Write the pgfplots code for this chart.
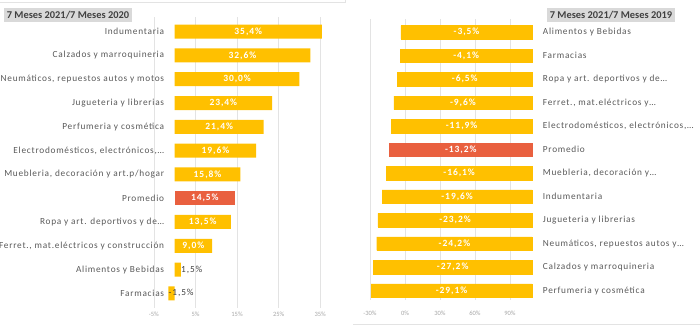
\documentclass[border=0pt]{standalone}
\usepackage{pgfplots}
\pgfplotsset{compat=1.18}
\usepackage{pgfplotstable}
\usepackage{fontspec}
\setmainfont{Carlito}
\newfontfamily\labfont[LetterSpace=8]{Carlito}
\newfontfamily\valfont[LetterSpace=10]{Carlito}
\definecolor{gold}{HTML}{FFC000}
\definecolor{prom}{HTML}{E9603F}
\definecolor{cattext}{HTML}{595959}
\definecolor{ticktext}{HTML}{A6A6A6}
\definecolor{gridc}{HTML}{E3E3E3}
\definecolor{titlebg}{HTML}{D9D9D9}
\definecolor{titletext}{HTML}{404040}
\definecolor{darklab}{HTML}{404040}

% Left panel: 7 Meses 2021 / 7 Meses 2020
\pgfplotstableread{
y v l
11 35.4 35,4\%
10 32.6 32,6\%
9 30.0 30,0\%
8 23.4 23,4\%
7 21.4 21,4\%
6 19.6 19,6\%
5 15.8 15,8\%
3 13.5 13,5\%
2 9.0 9,0\%
1 1.5 1,5\%
0 -1.5 -1,5\%
}\leftgold
\pgfplotstableread{
y v l
4 14.5 14,5\%
}\leftprom

% Right panel: 7 Meses 2021 / 7 Meses 2019 (bars drawn from the value to the bar end e)
\pgfplotstableread{
y v e l
11 -3.5 109 -3,5\%
10 -4.1 109 -4,1\%
9 -6.5 109 -6,5\%
8 -9.6 109 -9,6\%
7 -11.9 109 -11,9\%
5 -16.1 109 -16,1\%
4 -19.6 109 -19,6\%
3 -23.2 109 -23,2\%
2 -24.2 109 -24,2\%
1 -27.2 109 -27,2\%
0 -29.1 109 -29,1\%
}\rightgold
\pgfplotstableread{
y v e l
6 -13.2 109 -13,2\%
}\rightprom

\pgfplotsset{
  panel/.style={
    scale only axis, clip=false,
    axis line style={draw=none}, tick style={draw=none},
    xmajorgrids, major grid style={gridc, line width=0.7pt},
    ytick={0,...,11},
    xticklabel style={font=\fontsize{6.5}{7}\selectfont, text=ticktext, inner sep=0pt, anchor=north},
    yticklabel style={font=\labfont\fontsize{9.3}{10}\selectfont, text=cattext, inner sep=0pt},
    nodes near coords style={font=\valfont\bfseries\fontsize{9.5}{10}\selectfont, text=white, anchor=center, inner sep=0pt},
  },
}

\begin{document}
\begin{tikzpicture}[x=1pt,y=1pt]
\path[use as bounding box] (0,0) rectangle (700,327);
% frames
\draw[gridc, line width=0.6pt] (0,325) -- (345,325) -- (345,327);
\draw[gridc, line width=0.6pt] (353,3) -- (700,3);

\begin{axis}[panel,
  at={(151.8pt,19.4pt)}, anchor=south west,
  width=172.6pt, height=290.2pt,
  xmin=-5.5, xmax=36, ymin=-0.6, ymax=11.6,
  xtick={-5,5,15,25,35},
  xticklabels={-5\%,5\%,15\%,25\%,35\%},
  xticklabel style={yshift=-4.3pt},
  yticklabel style={anchor=east, xshift=12.5pt},
  yticklabels={{Farmacias}, {Alimentos y Bebidas}, {Ferret., mat.eléctricos y construcción}, {Ropa y art. deportivos y de…}, {Promedio}, {Muebleria, decoración y art.p/hogar}, {Electrodomésticos, electrónicos,…}, {Perfumeria y cosmética}, {Jugueteria y librerias}, {Neumáticos, repuestos autos y motos}, {Calzados y marroquineria}, {Indumentaria}},
]
\addplot[xbar, bar width=14pt, bar shift=0pt, fill=gold, draw=none] table[x=v, y=y] {\leftgold};
\addplot[xbar, bar width=14pt, bar shift=0pt, fill=prom, draw=none] table[x=v, y=y] {\leftprom};
\addplot[only marks, mark=none, nodes near coords, point meta=explicit symbolic,
  restrict x to domain=2:100] table[x expr=\thisrow{v}/2, y=y, meta=l] {\leftgold};
\addplot[only marks, mark=none, nodes near coords, point meta=explicit symbolic,
  restrict x to domain=-5:2, nodes near coords style={text=darklab, anchor=west, font=\valfont\fontsize{9.3}{10}\selectfont}] table[x=v, y=y, meta=l] {\leftgold};
\addplot[only marks, mark=none, nodes near coords, point meta=explicit symbolic] table[x expr=\thisrow{v}/2, y=y, meta=l] {\leftprom};
\end{axis}

\begin{axis}[panel,
  at={(368.8pt,26.9pt)}, anchor=south west,
  width=164.5pt, height=280.7pt,
  xmin=-31, xmax=110, ymin=-0.4, ymax=11.55,
  xtick={-30,0,30,60,90},
  xticklabels={-30\%,0\%,30\%,60\%,90\%},
  xticklabel style={yshift=-10.8pt},
  yticklabel pos=right,
  yticklabel style={anchor=west, xshift=9.4pt},
  yticklabels={{Perfumeria y cosmética}, {Calzados y marroquineria}, {Neumáticos, repuestos autos y…}, {Jugueteria y librerias}, {Indumentaria}, {Muebleria, decoración y…}, {Promedio}, {Electrodomésticos, electrónicos,…}, {Ferret., mat.eléctricos y…}, {Ropa y art. deportivos y de…}, {Farmacias}, {Alimentos y Bebidas}},
]
\addplot[xbar, bar width=13.5pt, bar shift=0pt, fill=gold, draw=gold, line width=0.3pt] table[x=v, y=y] {\rightgold};
\addplot[xbar, bar width=13.5pt, bar shift=0pt, fill=gold, draw=gold, line width=0.3pt] table[x=e, y=y] {\rightgold};
\addplot[xbar, bar width=13.5pt, bar shift=0pt, fill=prom, draw=prom, line width=0.3pt] table[x=v, y=y] {\rightprom};
\addplot[xbar, bar width=13.5pt, bar shift=0pt, fill=prom, draw=prom, line width=0.3pt] table[x=e, y=y] {\rightprom};
\addplot[only marks, mark=none, nodes near coords, point meta=explicit symbolic] table[x expr=(\thisrow{v}+\thisrow{e})/2, y=y, meta=l] {\rightgold};
\addplot[only marks, mark=none, nodes near coords, point meta=explicit symbolic] table[x expr=(\thisrow{v}+\thisrow{e})/2, y=y, meta=l] {\rightprom};
\end{axis}

% titles
\node[fill=titlebg, text=titletext, minimum width=128pt, minimum height=14pt, inner sep=0pt,
  font=\bfseries\fontsize{10.4}{11}\selectfont] at (68,312) {7 Meses 2021/7 Meses 2020};
\node[fill=titlebg, text=titletext, minimum width=128pt, minimum height=14pt, inner sep=0pt,
  font=\bfseries\fontsize{10.4}{11}\selectfont] at (611,312) {7 Meses 2021/7 Meses 2019};
\end{tikzpicture}
\end{document}
